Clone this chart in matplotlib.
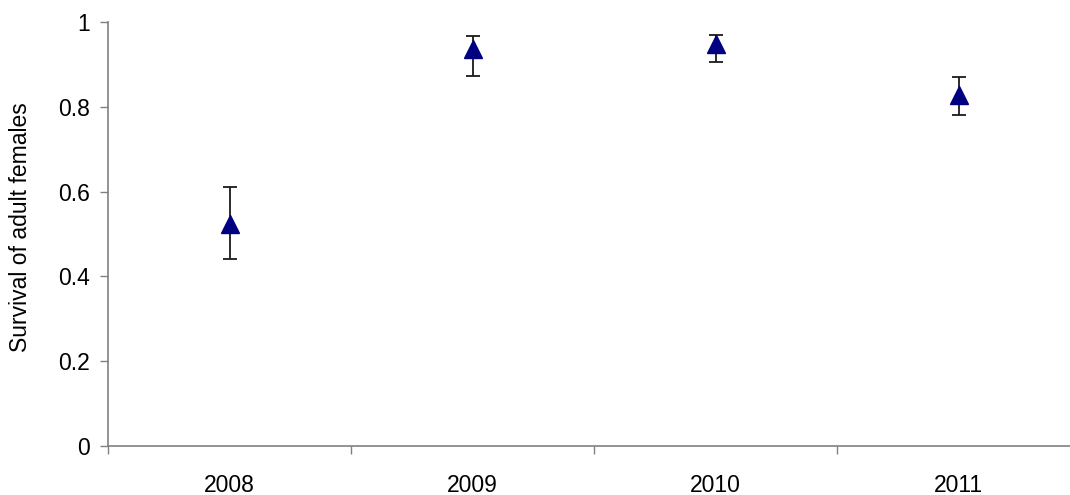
import matplotlib
matplotlib.use("Agg")
import matplotlib.pyplot as plt
import numpy as np

plt.rcParams['font.family'] = ['Liberation Sans', 'DejaVu Sans']

years = ["2008", "2009", "2010", "2011"]
survival = [0.524, 0.936, 0.948, 0.827]
upper = [0.612, 0.968, 0.970, 0.871]
lower = [0.440, 0.873, 0.905, 0.781]

x = np.arange(len(years))
yerr = np.array([[s - lo for s, lo in zip(survival, lower)],
                 [hi - s for s, hi in zip(survival, upper)]])

W, H = 1070, 495
fig = plt.figure(figsize=(W / 100, H / 100), dpi=100)
ax = fig.add_axes([108 / W, 49 / H, 972 / W, 424 / H])

ax.errorbar(x, survival, yerr=yerr, fmt='none', ecolor='#1a1a1a',
            elinewidth=1.3, capsize=4.7, capthick=1.3, zorder=2)
ax.plot(x, survival, linestyle='none', marker='^', markersize=13,
        color='#000080', markeredgecolor='#000080', zorder=3)

ax.set_xlim(-0.5, len(years) - 0.5)
ax.set_ylim(0, 1)
ax.set_yticks([0, 0.2, 0.4, 0.6, 0.8, 1.0])
ax.set_yticklabels(["0", "0.2", "0.4", "0.6", "0.8", "1"])

# category boundaries as major ticks, names centred as minor ticks
ax.set_xticks(np.arange(len(years) + 1) - 0.5)
ax.set_xticklabels([])
ax.set_xticks(x, minor=True)
ax.set_xticklabels(years, minor=True)
ax.tick_params(axis='x', which='minor', length=0, pad=20, labelsize=16.5)
ax.tick_params(axis='x', which='major', length=6, width=1, color='#808080', direction='out')
ax.tick_params(axis='y', length=6, width=1, color='#808080', direction='out',
               pad=7, labelsize=16.5)

for side in ('top', 'right'):
    ax.spines[side].set_visible(False)
for side in ('left', 'bottom'):
    ax.spines[side].set_color('#808080')
    ax.spines[side].set_linewidth(1.2)

ax.set_ylabel("Survival of adult females", fontsize=16.5)
ax.yaxis.set_label_coords(-76 / 972, 0.516)

fig.savefig("out.png", dpi=100)
